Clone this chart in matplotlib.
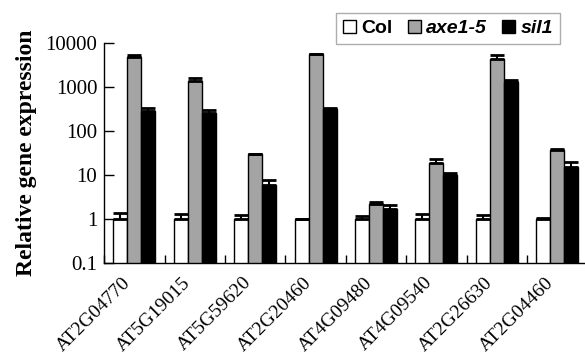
import numpy as np
import matplotlib.pyplot as plt
import matplotlib.transforms as mtransforms

# Gene names and expression values
genes = ['AT2G04770', 'AT5G19015', 'AT5G59620', 'AT2G20460',
         'AT4G09480', 'AT4G09540', 'AT2G26630', 'AT2G04460']
col_vals = [1.0, 1.0, 1.0, 1.0, 1.0, 1.0, 1.0, 1.0]
col_err = [0.4, 0.3, 0.2, 0.0, 0.17, 0.33, 0.26, 0.05]
axe_vals = [4700, 1390, 29.5, 5500, 2.2, 18.8, 4200, 37.5]
axe_err = [600, 170, 1.0, 200, 0.28, 4.5, 1200, 1.5]
sil_vals = [280, 260, 5.9, 310, 1.65, 10.2, 1290, 15.4]
sil_err = [50, 40, 1.7, 30, 0.38, 1.0, 140, 4.5]

plt.rcParams['font.family'] = ['Liberation Serif', 'DejaVu Serif']

fig = plt.figure(figsize=(5.85, 3.54), dpi=100)
ax = fig.add_axes([0.178, 0.257, 0.822, 0.622])

x = np.arange(len(genes))
w = 0.232
series = [(col_vals, col_err, 'white', 'Col'),
          (axe_vals, axe_err, '#a4a4a4', 'axe1-5'),
          (sil_vals, sil_err, 'black', 'sil1')]
for k, (vals, err, color, name) in enumerate(series):
    pos = x + (k - 1) * w
    ax.bar(pos, vals, w, color=color, edgecolor='black', linewidth=1.0,
           label=name, zorder=2)
    ax.errorbar(pos, vals, yerr=[np.zeros(len(err)), err], fmt='none',
                ecolor='black', elinewidth=1.5, capsize=5, capthick=2, zorder=3)

ax.set_yscale('log')
ax.set_ylim(0.1, 10000)
ax.set_yticks([0.1, 1, 10, 100, 1000, 10000])
ax.set_yticklabels(['0.1', '1', '10', '100', '1000', '10000'])
ax.yaxis.set_minor_locator(plt.NullLocator())
ax.set_xlim(-0.5, 7.46)
ax.set_xticks(x)
ax.set_xticklabels(genes, rotation=45, ha='right', rotation_mode='anchor')
ax.set_xticks(np.arange(len(genes)) - 0.5, minor=True)

ax.tick_params(axis='y', direction='in', length=7, width=1, labelsize=15, pad=5)
ax.tick_params(axis='x', which='major', length=0, labelsize=14, pad=8)
ax.tick_params(axis='x', which='minor', direction='in', length=6, width=1)

# shift the rotated labels a bit to the left, like the original
shift = mtransforms.ScaledTranslation(-9 / 72, 0, fig.dpi_scale_trans)
for lab in ax.get_xticklabels():
    lab.set_transform(lab.get_transform() + shift)

ax.spines['top'].set_visible(False)
ax.spines['right'].set_visible(False)
ax.spines['left'].set_linewidth(1)
ax.spines['bottom'].set_linewidth(1)

ax.set_ylabel('Relative gene expression', fontsize=17, fontweight='bold', labelpad=6)

leg = ax.legend(ncol=3, loc='upper right', bbox_to_anchor=(0.948, 1.136),
                borderaxespad=0, frameon=True, fancybox=False, edgecolor='#999999',
                handlelength=0.67, handleheight=0.67, handletextpad=0.3,
                columnspacing=0.75, borderpad=0.35,
                prop={'family': 'Liberation Sans', 'weight': 'bold', 'size': 14})
leg.get_frame().set_linewidth(1)
leg.set_zorder(5)
for t in leg.get_texts()[1:]:
    t.set_style('italic')

fig.savefig('out.png', dpi=100)
